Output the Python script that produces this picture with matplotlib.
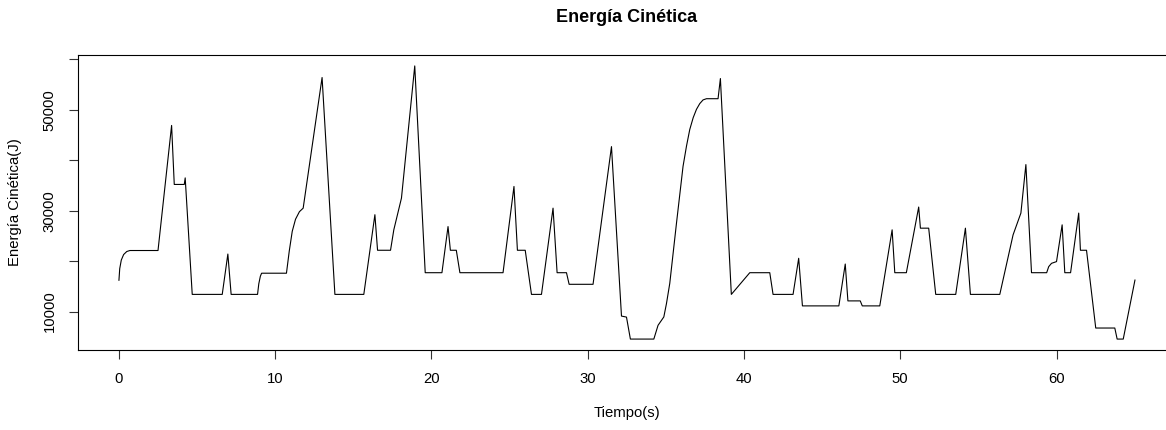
import matplotlib
matplotlib.use('Agg')
import matplotlib.pyplot as plt

# time (s) of each sample
tiempo = [
    0.0, 0.05, 0.15, 0.3, 0.5, 0.7, 2.5, 3.37, 3.54, 4.18,
    4.24, 4.69, 6.61, 6.97, 7.18, 8.87, 8.95, 9.05, 9.13, 10.72,
    10.9, 11.09, 11.3, 11.55, 11.79, 13.0, 13.82, 15.67, 16.38, 16.55,
    17.38, 17.59, 18.08, 18.93, 19.6, 20.67, 21.06, 21.21, 21.59, 21.82,
    24.58, 25.28, 25.5, 26.0, 26.4, 27.04, 27.78, 28.04, 28.64, 28.81,
    30.34, 31.52, 32.16, 32.48, 32.73, 34.23, 34.5, 34.87, 35.04, 35.25,
    35.68, 36.1, 36.32, 36.53, 36.75, 36.96, 37.17, 37.38, 37.6, 38.34,
    38.49, 39.19, 40.37, 41.65,
    41.86, 43.14, 43.5, 43.74, 46.07, 46.48, 46.65, 47.44, 47.57, 48.69,
    49.48, 49.65, 50.39, 51.18, 51.29, 51.82, 52.27, 53.55, 54.17, 54.49,
    56.37, 57.22, 57.72, 58.04, 58.4, 59.37, 59.5, 59.68, 60.0, 60.36,
    60.53, 60.9, 61.42, 61.53, 61.92, 62.51, 63.73, 63.88, 64.27, 65.02]

# kinetic energy (J)
energia = [
    16200, 18500, 20200, 21300, 21900, 22100, 22100, 46900, 35200, 35200,
    36500, 13400, 13400, 21400, 13400, 13400, 15500, 17000, 17600, 17600,
    22000, 25900, 28300, 29800, 30500, 56400, 13400, 13400, 29200, 22150,
    22150, 26200, 32500, 58700, 17700, 17700, 26850, 22150, 22150, 17700,
    17700, 34800, 22150, 22150, 13400, 13400, 30500, 17700, 17700, 15400,
    15400, 42700, 9100, 8900, 4540, 4540, 7270, 8930, 11600, 15580,
    27530, 38800, 42800, 46100, 48450, 50100, 51230, 51960, 52200, 52200,
    56200, 13400, 17700, 17700,
    13400, 13400, 20560, 11120, 11120, 19420, 12110, 12110, 11120, 11120,
    26200, 17700, 17700, 30720, 26530, 26530, 13400, 13400, 26530, 13400,
    13400, 25200, 29520, 39140, 17700, 17700, 18900, 19560, 19900, 27190,
    17700, 17700, 29520, 22150, 22150, 6730, 6730, 4540, 4540, 16240]

x_ticks = [0, 10, 20, 30, 40, 50, 60]
y_ticks = [10000, 20000, 30000, 40000, 50000, 60000]
y_tick_labels = ['10000', '', '30000', '', '50000', '']

plt.rcParams['font.family'] = ['Liberation Sans', 'DejaVu Sans']

W, H = 1166, 430
fig = plt.figure(figsize=(W / 100, H / 100), dpi=100)
# R-style box; right edge lies just outside the saved image
left, right, top, bottom = 78.3, 1175.6, 55, 350
ax = fig.add_axes([
    left / W,
    1 - bottom / H,
    (right - left) / W,
    (bottom - top) / H])

ax.plot(
    tiempo,
    energia,
    color='black',
    linewidth=0.8)

# R pads the data range by 4 % on each side
xr = max(tiempo) - min(tiempo)
yr = max(energia) - min(energia)
ax.set_xlim(min(tiempo) - 0.04 * xr, max(tiempo) + 0.04 * xr)
ax.set_ylim(min(energia) - 0.04 * yr, max(energia) + 0.04 * yr)

ax.set_xticks(x_ticks)
ax.set_xticklabels([str(v) for v in x_ticks])
ax.set_yticks(y_ticks)
ax.set_yticklabels(
    y_tick_labels,
    rotation=90,
    va='center')
ax.tick_params(
    axis='both',
    direction='out',
    length=6.5,
    width=0.8,
    color='#333333',
    labelsize=10.7)
ax.tick_params(axis='x', pad=9)
ax.tick_params(axis='y', pad=9)
for sp in ax.spines.values():
    sp.set_linewidth(0.8)
    sp.set_color('black')

fig.text(
    627 / W,
    1 - 17.5 / H,
    'Energía Cinética',
    ha='center',
    va='center',
    fontsize=13,
    fontweight='bold')
fig.text(
    627 / W,
    1 - 413 / H,
    'Tiempo(s)',
    ha='center',
    va='center',
    fontsize=10.7)
fig.text(
    15 / W,
    1 - 202 / H,
    'Energía Cinética(J)',
    ha='center',
    va='center',
    rotation=90,
    fontsize=10.7)

fig.savefig('out.png', dpi=100)
plt.close(fig)
